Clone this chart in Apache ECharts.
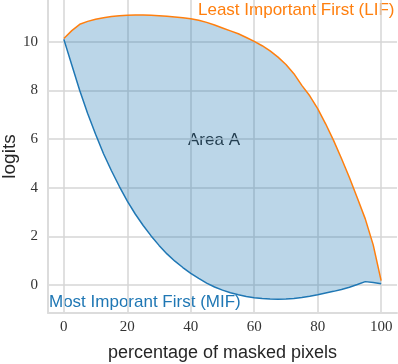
<!DOCTYPE html>
<html>
<head>
<meta charset="utf-8">
<script src="https://cdn.jsdelivr.net/npm/echarts@6/dist/echarts.min.js"></script>
<style>
  html, body { margin: 0; padding: 0; background: #fff; }
  #main { width: 398px; height: 364px; }
</style>
</head>
<body>
<div id="main"></div>
<script>
// percentage of masked pixels
const pct = [0, 2.5, 5, 7.5, 10, 12.5, 15, 17.5, 20, 22.5, 25, 27.5, 30, 32.5, 35, 37.5, 40,
  42.5, 45, 47.5, 50, 52.5, 55, 57.5, 60, 62.5, 65, 67.5, 70, 72.5, 75, 77.5, 80,
  82.5, 85, 87.5, 90, 92.5, 95, 97.5, 100]
// Most Imporant First
const mif = [10.1, 9.05, 8.0, 7.05, 6.2, 5.4, 4.7, 4.05, 3.45, 2.92, 2.45, 2.02, 1.63, 1.28, 0.98, 0.72, 0.48,
  0.27, 0.08, -0.08, -0.21, -0.32, -0.4, -0.47, -0.52, -0.55, -0.57, -0.58, -0.57, -0.55, -0.51, -0.46, -0.40,
  -0.33, -0.26, -0.18, -0.09, 0.02, 0.14, 0.10, 0.05]
// Least Important First
const lif = [10.14, 10.46, 10.72, 10.84, 10.93, 10.99, 11.04, 11.07, 11.09, 11.1, 11.1, 11.09, 11.07, 11.05, 11.02, 10.99, 10.95,
  10.89, 10.8, 10.69, 10.57, 10.45, 10.33, 10.18, 10.02, 9.84, 9.63, 9.37, 9.07, 8.69, 8.21, 7.78, 7.25,
  6.63, 5.95, 5.2, 4.42, 3.58, 2.72, 1.65, 0.18]
const xTicks = [0, 20, 40, 60, 80, 100]
const yTicks = [0, 2, 4, 6, 8, 10]

const blue = '#1f77b4'
const orange = '#ff7f0e'
const gridColor = '#d6d6d6'

const mifData = pct.map((x, i) => [x, mif[i]])
const lifData = pct.map((x, i) => [x, lif[i]])

const chart = echarts.init(document.getElementById('main'), null, { renderer: 'canvas' })

// polygon between the two curves: LIF forward, MIF backward
function renderArea (params, api) {
  const points = []
  for (let i = 0; i < pct.length; i++) {
    points.push(api.coord([pct[i], lif[i]]))
  }
  for (let i = pct.length - 1; i >= 0; i--) {
    points.push(api.coord([pct[i], mif[i]]))
  }
  return {
    type: 'polygon',
    shape: { points: points },
    style: { fill: 'rgba(31, 119, 180, 0.3)' },
    silent: true
  }
}

const option = {
  animation: false,
  backgroundColor: '#fff',
  grid: {
    left: 48,
    right: 1,
    top: 0,
    bottom: 51,
    outerBoundsMode: 'none',
    containLabel: false
  },
  xAxis: {
    type: 'value',
    min: -5,
    max: 105,
    name: 'percentage of masked pixels',
    nameLocation: 'middle',
    nameGap: 31,
    nameTextStyle: {
      fontFamily: 'Liberation Sans',
      fontSize: 18,
      color: '#262626'
    },
    axisLine: {
      show: true,
      onZero: false,
      lineStyle: { color: '#dcdcdc', width: 2 }
    },
    axisTick: { show: false, customValues: xTicks },
    axisLabel: {
      customValues: xTicks,
      margin: 7,
      fontFamily: 'Liberation Serif',
      fontSize: 15,
      color: '#333'
    },
    splitLine: {
      show: true,
      lineStyle: { color: gridColor, width: 1.5 }
    }
  },
  yAxis: {
    type: 'value',
    min: -1.15,
    max: 11.72,
    name: 'logits',
    nameLocation: 'middle',
    nameGap: 29,
    nameMoveOverlap: false,
    nameTextStyle: {
      fontFamily: 'Liberation Sans',
      fontSize: 19,
      color: '#262626'
    },
    axisLine: {
      show: true,
      onZero: false,
      lineStyle: { color: '#dcdcdc', width: 2 }
    },
    axisTick: { show: false, customValues: yTicks },
    axisLabel: {
      customValues: yTicks,
      margin: 10,
      fontFamily: 'Liberation Serif',
      fontSize: 15,
      color: '#333'
    },
    splitLine: {
      show: true,
      lineStyle: { color: gridColor, width: 1.5 }
    }
  },
  series: [
    {
      name: 'Area A',
      type: 'custom',
      renderItem: renderArea,
      data: [[0, 0]],
      silent: true,
      z: 1
    },
    {
      name: 'MIF',
      type: 'line',
      symbol: 'none',
      lineStyle: { color: blue, width: 1.5 },
      data: mifData,
      z: 3
    },
    {
      name: 'LIF',
      type: 'line',
      symbol: 'none',
      lineStyle: { color: orange, width: 1.5 },
      data: lifData,
      z: 3
    }
  ],
  graphic: [
    {
      type: 'text',
      left: 198,
      top: 2,
      style: {
        text: 'Least Important First (LIF)',
        fill: orange,
        font: '17px "Liberation Sans"'
      }
    },
    {
      type: 'text',
      left: 49,
      top: 294,
      style: {
        text: 'Most Imporant First (MIF)',
        fill: blue,
        font: '17px "Liberation Sans"'
      }
    },
    {
      type: 'text',
      left: 188,
      top: 132,
      style: {
        text: 'Area A',
        fill: '#262626',
        font: '17px "Liberation Sans"'
      }
    }
  ]
}

chart.setOption(option)
</script>
</body>
</html>
